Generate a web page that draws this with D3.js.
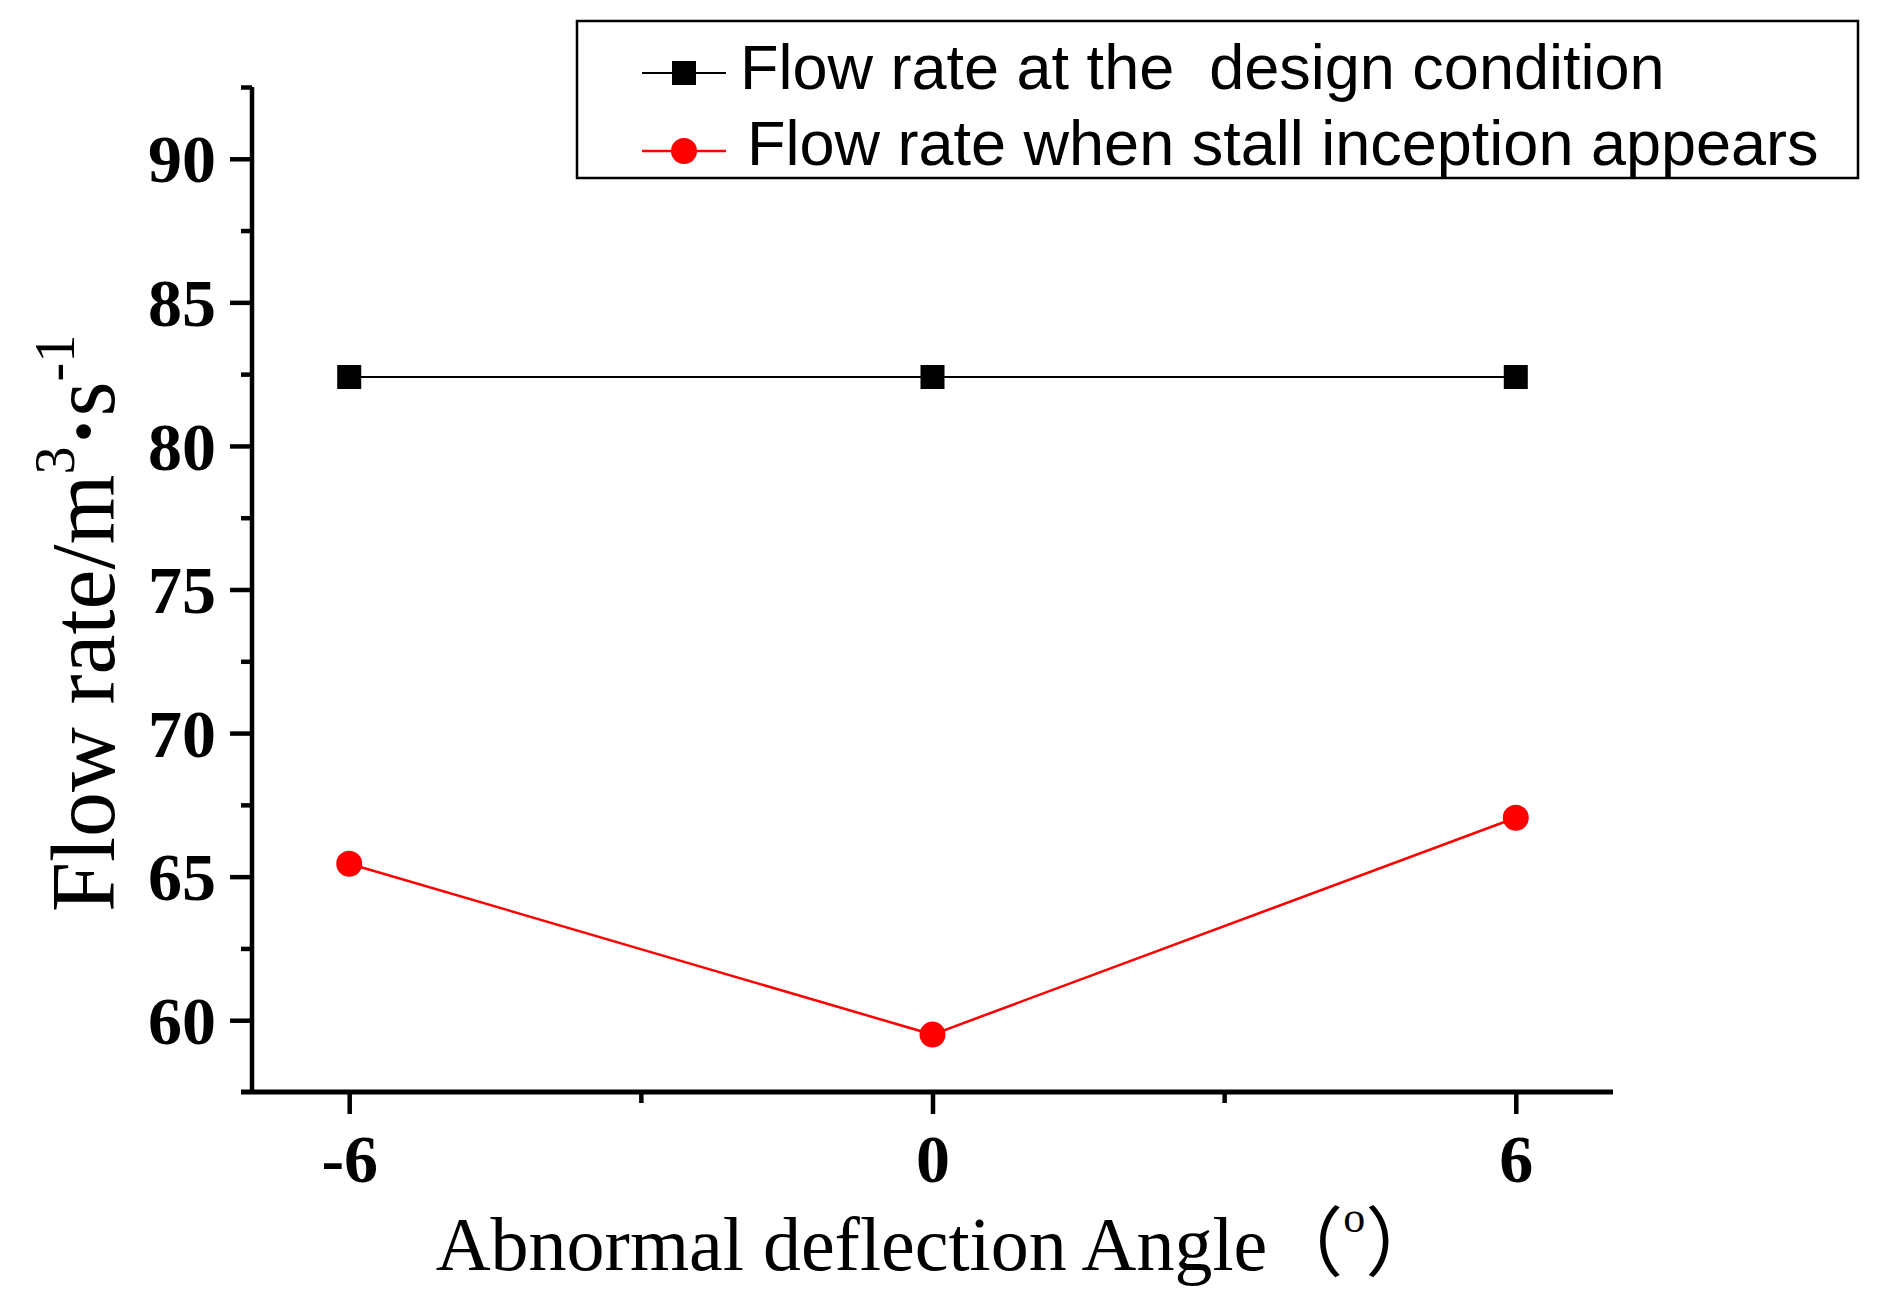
<!DOCTYPE html>
<html>
<head>
<meta charset="utf-8">
<script src="https://cdn.jsdelivr.net/npm/d3@7"></script>
<style>
  body { margin: 0; background: #fff; }
</style>
</head>
<body>
<svg id="chart"></svg>
<script>
// data
var angles = [-6, 0, 6];
var designFlow = [82.4, 82.4, 82.4];
var stallFlow = [65.45, 59.5, 67.05];
var seriesNames = ["Flow rate at the  design condition", "Flow rate when stall inception appears"];
var xTicks = [-6, 0, 6];
var xMinorTicks = [-3, 3];
var yTicks = [60, 65, 70, 75, 80, 85, 90];
var yMinorTicks = [62.5, 67.5, 72.5, 77.5, 82.5, 87.5, 92.5];

var W = 1888, H = 1305;
var margin = { top: 87, right: 275, bottom: 213, left: 252 };

var svg = d3.select("#chart").attr("width", W).attr("height", H);

var x = d3.scaleLinear().domain([-7, 7]).range([margin.left, W - margin.right]);
var y = d3.scaleLinear().domain([57.5, 92.5]).range([H - margin.bottom, margin.top]);

var serif = "'Liberation Serif', 'Times New Roman', serif";
var sans = "'Liberation Sans', Arial, sans-serif";

// x axis
var xg = svg.append("g").attr("transform", `translate(0, ${y(57.5)})`);
xg.call(d3.axisBottom(x).tickValues(xTicks).tickSize(22).tickPadding(20).tickSizeOuter(0)
  .tickFormat(d => String(d)));
xg.append("g").call(d3.axisBottom(x).tickValues(xMinorTicks).tickSize(11).tickFormat("").tickSizeOuter(0))
  .select(".domain").remove();
xg.select(".domain").remove();
xg.selectAll(".tick line").attr("stroke", "#000").attr("stroke-width", 4.5);
xg.selectAll(".tick text")
  .attr("fill", "#000")
  .style("font-family", serif)
  .style("font-weight", "bold")
  .style("font-size", "68px")
  .attr("dy", "0.71em");
xg.append("line")
  .attr("x1", x(-7) - 11).attr("x2", x(7))
  .attr("stroke", "#000").attr("stroke-width", 5);

// y axis
var yg = svg.append("g").attr("transform", `translate(${x(-7)}, 0)`);
yg.call(d3.axisLeft(y).tickValues(yTicks).tickSize(22).tickPadding(14).tickSizeOuter(0));
yg.append("g").call(d3.axisLeft(y).tickValues(yMinorTicks).tickSize(11).tickFormat("").tickSizeOuter(0))
  .select(".domain").remove();
yg.select(".domain").remove();
yg.selectAll(".tick line").attr("stroke", "#000").attr("stroke-width", 4.5);
yg.selectAll(".tick text")
  .attr("fill", "#000")
  .style("font-family", serif)
  .style("font-weight", "bold")
  .style("font-size", "68px")
  .attr("dy", "0.34em");
yg.append("line")
  .attr("y1", y(92.5)).attr("y2", y(57.5))
  .attr("stroke", "#000").attr("stroke-width", 4.5);

// series
var line = d3.line().x(d => x(d[0])).y(d => y(d[1]));
var designPts = angles.map((a, i) => [a, designFlow[i]]);
var stallPts = angles.map((a, i) => [a, stallFlow[i]]);

svg.append("path").datum(designPts).attr("d", line)
  .attr("fill", "none").attr("stroke", "#000").attr("stroke-width", 2);
svg.selectAll(".sq").data(designPts).join("rect")
  .attr("class", "sq")
  .attr("x", d => x(d[0]) - 12).attr("y", d => y(d[1]) - 12)
  .attr("width", 24).attr("height", 24)
  .attr("fill", "#000");

svg.append("path").datum(stallPts).attr("d", line)
  .attr("fill", "none").attr("stroke", "#ff0000").attr("stroke-width", 2.5);
svg.selectAll(".dot").data(stallPts).join("circle")
  .attr("class", "dot")
  .attr("cx", d => x(d[0])).attr("cy", d => y(d[1]))
  .attr("r", 13)
  .attr("fill", "#ff0000");

// legend
var lg = svg.append("g");
lg.append("rect")
  .attr("x", 577).attr("y", 21).attr("width", 1281).attr("height", 157)
  .attr("fill", "#fff").attr("stroke", "#000").attr("stroke-width", 2.5);
var legRows = [
  { y: 73, color: "#000", sw: 2, shape: "square", tx: 740, baseline: 89 },
  { y: 151, color: "#ff0000", sw: 2.5, shape: "circle", tx: 747, baseline: 165 }
];
legRows.forEach(function (r, i) {
  lg.append("line").attr("x1", 642).attr("x2", 726).attr("y1", r.y).attr("y2", r.y)
    .attr("stroke", r.color).attr("stroke-width", r.sw);
  if (r.shape === "square") {
    lg.append("rect").attr("x", 684 - 12).attr("y", r.y - 12).attr("width", 24).attr("height", 24).attr("fill", r.color);
  } else {
    lg.append("circle").attr("cx", 684).attr("cy", r.y).attr("r", 13).attr("fill", r.color);
  }
  lg.append("text")
    .attr("x", r.tx).attr("y", r.baseline)
    .attr("xml:space", "preserve")
    .style("white-space", "pre")
    .style("font-family", sans)
    .style("font-size", "63px")
    .attr("fill", "#000")
    .text(seriesNames[i]);
});

// axis titles
var xt = svg.append("text")
  .attr("x", (x(-7) + x(7)) / 2 + 6).attr("y", 1270)
  .attr("text-anchor", "middle")
  .style("font-family", serif + ", 'Noto Sans CJK SC'")
  .style("font-size", "76px")
  .attr("fill", "#000");
xt.append("tspan").text("Abnormal deflection Angle（");
xt.append("tspan").attr("dy", -38).style("font-size", "44px").style("font-family", serif).text("o");
xt.append("tspan").attr("dy", 38).text("）");

var yt = svg.append("text")
  .attr("transform", "translate(114, 912) rotate(-90)")
  .attr("x", 0).attr("y", 0)
  .style("font-family", serif)
  .style("font-size", "90px")
  .attr("fill", "#000");
yt.append("tspan").text("Flow rate/m");
yt.append("tspan").attr("dy", -40).style("font-size", "56px").text("3");
yt.append("tspan").attr("dy", 40).style("font-weight", "bold").text("·");
yt.append("tspan").text("s");
yt.append("tspan").attr("dy", -40).style("font-size", "56px").text("-1");
</script>
</body>
</html>
